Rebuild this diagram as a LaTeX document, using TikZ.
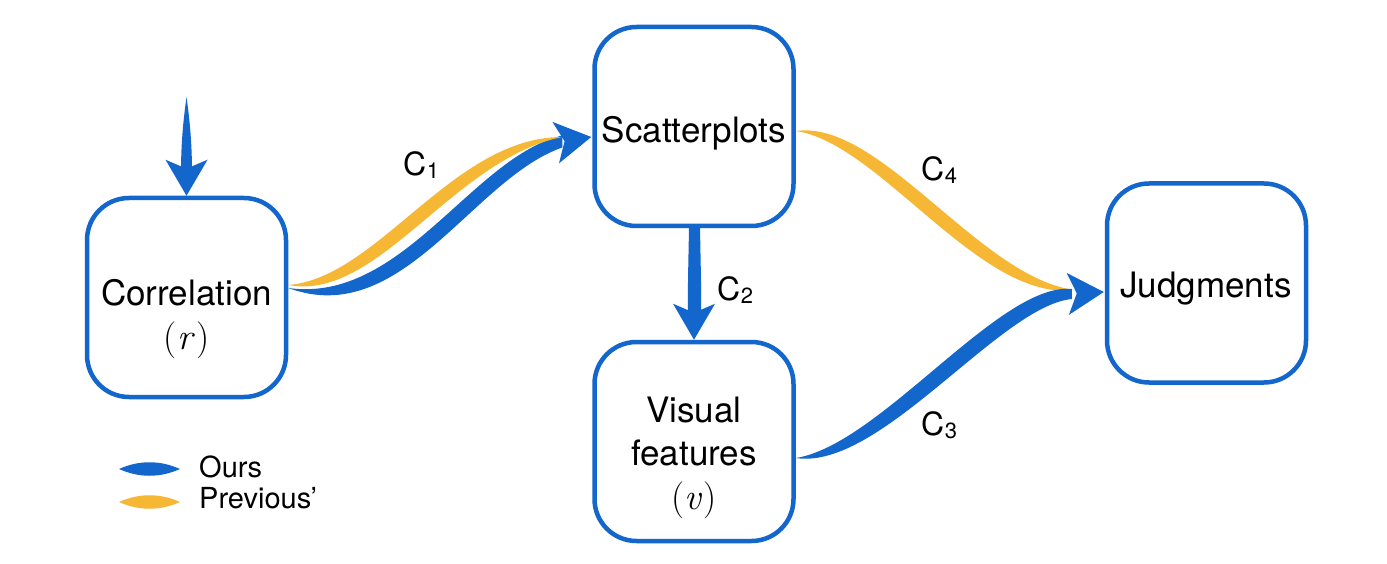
\documentclass[tikz,border=0pt]{standalone}
\usepackage{fontspec}
\setmainfont{TeX Gyre Heros}
\newfontfamily\lmr{Latin Modern Roman}
\usetikzlibrary{calc}
\definecolor{blueC}{RGB}{18,102,204}
\definecolor{yellowC}{RGB}{246,183,52}
\newcommand\Csub[1]{C\kern0.5pt\raisebox{-3pt}{\fontsize{22}{22}\selectfont #1}}
\newcommand\mvar[1]{{\lmr\fontsize{37}{44}\selectfont(\kern0.5pt\textit{#1}\kern1pt)}}
% tapered band: style, P0, P1, P2, P3, h1, h2, end half-width
\newcommand\taper[8]{%
  \fill[#1] (#2) .. controls ($(#3)+(0,-#6)$) and ($(#4)+(0,-#7)$) .. ($(#5)+(0,-#8)$)
    -- ($(#5)+(0,#8)$) .. controls ($(#4)+(0,#7)$) and ($(#3)+(0,#6)$) .. (#2) -- cycle;}
\newcommand\ahead[2]{%
  \fill[blueC, shift={(#1)}, rotate=#2] (0,0) -- (-36,21) -- (-27,0) -- (-36,-21) -- cycle;}
\begin{document}
\begin{tikzpicture}[x=1pt,y=-1pt,
  box/.style={draw=blueC, line width=4.5pt, rounded corners=42pt,
    minimum width=199pt, minimum height=199pt, inner sep=0pt},
  lbl/.style={inner sep=0pt, anchor=base, font=\fontsize{35}{44}\selectfont},
  clbl/.style={inner sep=0pt, anchor=base west, font=\fontsize{32}{36}\selectfont},
  leg/.style={inner sep=0pt, anchor=base west, font=\fontsize{29}{31}\selectfont}]
\useasboundingbox (0,0) rectangle (1387,564);
\fill[white] (0,0) rectangle (1387,564);

% boxes
\node[box] (corr) at (186.5,297.5) {};
\node[box] (scat) at (694,126.5) {};
\node[box] (vis)  at (694,441.5) {};
\node[box] (judg) at (1206.5,283) {};

% texts
\node[lbl] (corrA) at (186.5,305) {Correlation};
\node[lbl] (corrB) at (186.5,349) {\mvar{r}};
\node[lbl] (scatA) at (694,143) {Scatterplots};
\node[lbl] (visA) at (694,422) {Visual};
\node[lbl] (visB) at (694,465) {features};
\node[lbl] (visC) at (694,509) {\mvar{v}};
\node[lbl] (judgA) at (1206,297) {Judgments};

% coordinates
\coordinate (topS) at (186.5,97);
\coordinate (c1bs) at ($(corr.east)+(0,-9.5)$);
\coordinate (c1ys) at ($(corr.east)+(0,-12.5)$);
\coordinate (c1tip) at ($(scat.west)+(-1,10.5)$);
\coordinate (c1be) at ($(c1tip)+(-29,4.5)$);
\coordinate (c1ye) at ($(c1tip)+(-29,0)$);
\coordinate (c4s) at ($(scat.east)+(0,4.5)$);
\coordinate (c3s) at ($(vis.east)+(0,16.5)$);
\coordinate (c3tip) at ($(judg.west)+(-1,9)$);
\coordinate (c4e) at ($(c3tip)+(-29,-2)$);
\coordinate (c3e) at ($(c3tip)+(-32,2)$);

% input arrow into correlation
\fill[blueC] (topS) .. controls (189,115) and (192,140) .. (192,172)
  -- (181,172) .. controls (181,140) and (184,115) .. (topS) -- cycle;
\ahead{corr.north}{-90}

% C1
\taper{blueC}{c1bs}{402,317}{472,168}{c1be}{13}{11}{6}
\taper{yellowC}{c1ys}{378,290}{453,148}{c1ye}{12}{11}{0}
\ahead{c1tip}{9}

% C2
\fill[blueC] ($(scat.south)+(-5,-2)$) .. controls (688.5,260) and (687.5,290) .. (688,314)
  -- (701,314) .. controls (701.5,290) and (700.5,260) .. ($(scat.south)+(6,-2)$) -- cycle;
\ahead{vis.north}{-90}

% C4 and C3
\taper{yellowC}{c4s}{880,131}{980,290}{c4e}{12}{12}{0}
\taper{blueC}{c3s}{880,458}{1000,294}{c3e}{13}{12}{5}
\ahead{c3tip}{3}

% connector labels
\node[clbl] (lc1) at (403,176) {\Csub{1}};
\node[clbl] (lc2) at (717,300) {\Csub{2}};
\node[clbl] (lc4) at (921,181) {\Csub{4}};
\node[clbl] (lc3) at (921,435) {\Csub{3}};

% legend
\fill[blueC] (119,469) .. controls (139,460) and (160,460) .. (180,469)
  .. controls (160,478) and (139,478) .. (119,469) -- cycle;
\fill[yellowC] (119,502) .. controls (139,493) and (160,493) .. (180,502)
  .. controls (160,511) and (139,511) .. (119,502) -- cycle;
\node[leg] (legO) at (199,477) {Ours};
\node[leg] (legP) at (199,508) {Previous’};
\end{tikzpicture}
\end{document}
